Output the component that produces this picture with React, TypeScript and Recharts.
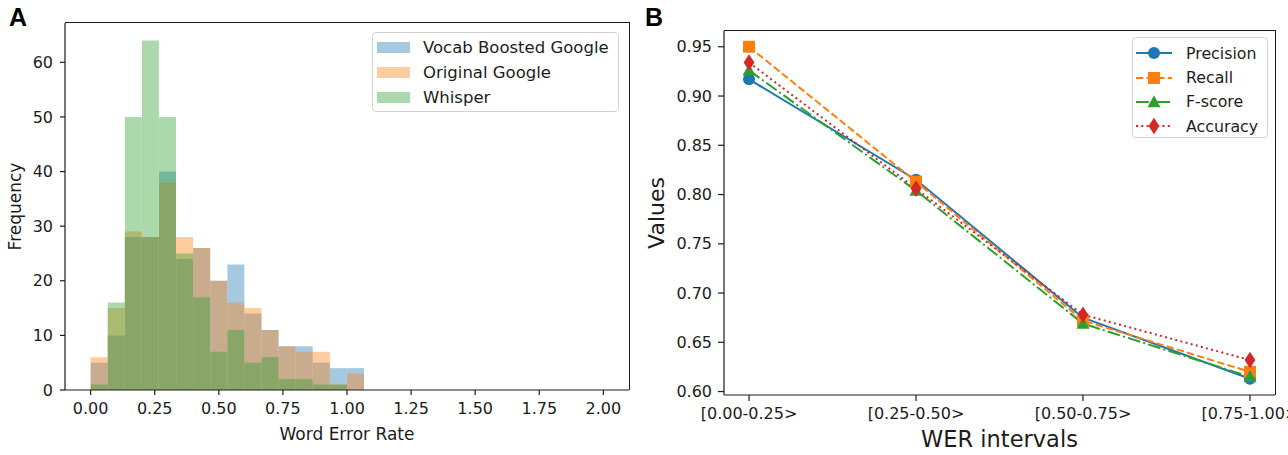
import React from "react";
import {
  ComposedChart,
  LineChart,
  Bar,
  Line,
  XAxis,
  YAxis,
  Legend,
} from "recharts";

// Panel A: histogram of word error rate, bins of width 1/15 over [0, 2]
const binCenters = [
  0.0333, 0.1, 0.1667, 0.2333, 0.3, 0.3667, 0.4333, 0.5, 0.5667, 0.6333,
  0.7, 0.7667, 0.8333, 0.9, 0.9667, 1.0333, 1.1, 1.1667, 1.2333, 1.3,
  1.3667, 1.4333, 1.5, 1.5667, 1.6333, 1.7, 1.7667, 1.8333, 1.9, 1.9667,
];
const vocabBoosted = [5, 10, 28, 28, 40, 24, 26, 20, 23, 14, 11, 8, 8, 5, 4, 4, 0, 0, 0, 0, 0, 0, 0, 0, 0, 0, 0, 0, 0, 0];
const originalGoogle = [6, 15, 29, 28, 38, 28, 26, 20, 16, 15, 11, 8, 7, 7, 1, 3, 0, 0, 0, 0, 0, 0, 0, 0, 0, 0, 0, 0, 0, 0];
const whisper = [1, 16, 50, 64, 50, 25, 17, 7, 11, 5, 6, 2, 2, 1, 1, 0, 0, 0, 0, 0, 0, 0, 0, 0, 0, 0, 0, 0, 0, 0];
const werTicks = [0, 0.25, 0.5, 0.75, 1.0, 1.25, 1.5, 1.75, 2.0];
const freqTicks = [0, 10, 20, 30, 40, 50, 60];
const histSeries = ["Vocab Boosted Google", "Original Google", "Whisper"];

// Panel B: metrics per WER interval
const werIntervals = ["[0.00-0.25>", "[0.25-0.50>", "[0.50-0.75>", "[0.75-1.00>"];
const precision = [0.917, 0.815, 0.675, 0.613];
const recall = [0.95, 0.813, 0.672, 0.62];
const fScore = [0.926, 0.804, 0.669, 0.615];
const accuracy = [0.934, 0.806, 0.678, 0.632];
const valueTicks = [0.6, 0.65, 0.7, 0.75, 0.8, 0.85, 0.9, 0.95];
const metricSeries = ["Precision", "Recall", "F-score", "Accuracy"];

const BLUE = "#1f77b4";
const ORANGE = "#ff7f0e";
const GREEN = "#2ca02c";
const RED = "#d62728";
const INK = "#1c1c1c";
const FONT = "'DejaVu Sans', sans-serif";

const histData = binCenters.map((x, i) => ({
  x,
  vocab: vocabBoosted[i],
  orig: originalGoogle[i],
  whisper: whisper[i],
}));

// intervals sit at positions 0..3 on a numeric axis, like matplotlib's categorical x
const metricData = werIntervals.map((interval, i) => ({
  pos: i,
  interval,
  precision: precision[i],
  recall: recall[i],
  fscore: fScore[i],
  accuracy: accuracy[i],
}));

const tickStyle = (size: number) => ({ fill: INK, fontSize: size, fontFamily: FONT });
const frameLine = { stroke: INK, strokeWidth: 1.2 };

// keep legend rows in series order (recharts sorts them by name otherwise)
const ordered = (payload: any[] = [], order: string[]) =>
  [...payload].sort((a, b) => order.indexOf(a.value) - order.indexOf(b.value));

function HistLegend({ payload }: any) {
  return (
    <div
      style={{
        width: 247,
        height: 80,
        boxSizing: "border-box",
        border: "1px solid #d2d2d2",
        borderRadius: 4,
        background: "rgba(255,255,255,0.85)",
        padding: "2px 4px",
        fontFamily: FONT,
        fontSize: 16.5,
        color: INK,
      }}
    >
      {ordered(payload, histSeries).map((entry: any) => (
        <div key={entry.value} style={{ height: 25, display: "flex", alignItems: "center" }}>
          <div style={{ width: 33, height: 11, background: entry.color, opacity: 0.4, marginRight: 13 }} />
          <span>{entry.value}</span>
        </div>
      ))}
    </div>
  );
}

// marker drawing shared by line dots and legend samples
function marker(kind: string, cx: number, cy: number, color: string, key?: string) {
  if (kind === "circle") return <circle key={key} cx={cx} cy={cy} r={6} fill={color} />;
  if (kind === "square") return <rect key={key} x={cx - 6} y={cy - 6} width={12} height={12} fill={color} />;
  if (kind === "triangle")
    return <path key={key} d={`M${cx},${cy - 6.8} L${cx + 6.5},${cy + 5.2} L${cx - 6.5},${cy + 5.2} Z`} fill={color} />;
  return <path key={key} d={`M${cx},${cy - 8.3} L${cx + 5.4},${cy} L${cx},${cy + 8.3} L${cx - 5.4},${cy} Z`} fill={color} />;
}

const lineStyles: Record<string, { color: string; dash?: string; kind: string }> = {
  Precision: { color: BLUE, kind: "circle" },
  Recall: { color: ORANGE, dash: "7.4 3.2", kind: "square" },
  "F-score": { color: GREEN, dash: "12.8 3.2 2 3.2", kind: "triangle" },
  Accuracy: { color: RED, dash: "2 3.3", kind: "diamond" },
};

function MetricLegend({ payload }: any) {
  return (
    <div
      style={{
        width: 136,
        height: 101,
        boxSizing: "border-box",
        border: "1px solid #d2d2d2",
        borderRadius: 4,
        background: "rgba(255,255,255,0.85)",
        padding: "3px 3px",
        fontFamily: FONT,
        fontSize: 15.8,
        color: INK,
      }}
    >
      {ordered(payload, metricSeries).map((entry: any) => {
        const s = lineStyles[entry.value] || { color: entry.color, kind: "circle" };
        return (
          <div key={entry.value} style={{ height: 24.4, display: "flex", alignItems: "center" }}>
            <svg width={36} height={18} style={{ marginRight: 14 }}>
              <line x1={0} y1={9} x2={36} y2={9} stroke={s.color} strokeWidth={2} strokeDasharray={s.dash} />
              {marker(s.kind, 18, 9, s.color)}
            </svg>
            <span>{entry.value}</span>
          </div>
        );
      })}
    </div>
  );
}

const dotFor = (name: string) => (props: any) => {
  const s = lineStyles[name];
  return marker(s.kind, props.cx, props.cy, s.color, `${name}-${props.index}`);
};

// top and right spines of a matplotlib-style axes box (left/bottom come from the axes)
function AxesBox({ left, top, right, bottom }: { left: number; top: number; right: number; bottom: number }) {
  return (
    <div
      style={{
        position: "absolute",
        left,
        top: top - 1,
        width: right - left + 1,
        height: bottom - top + 1,
        boxSizing: "border-box",
        borderTop: `1px solid ${INK}`,
        borderRight: `1px solid ${INK}`,
        pointerEvents: "none",
      }}
    />
  );
}

export default function App() {
  return (
    <div style={{ position: "absolute", left: 0, top: 0, width: 1288, height: 455, background: "#fff", overflow: "hidden" }}>
      <div style={{ position: "absolute", left: 9, top: 3, fontFamily: "'Liberation Sans', Arial, sans-serif", fontWeight: 700, fontSize: 25, color: "#000" }}>
        A
      </div>
      <div style={{ position: "absolute", left: 645, top: 3, fontFamily: "'Liberation Sans', Arial, sans-serif", fontWeight: 700, fontSize: 25, color: "#000" }}>
        B
      </div>

      <div style={{ position: "absolute", left: 0, top: 0 }}>
        <ComposedChart
          width={640}
          height={455}
          data={histData}
          margin={{ top: 23, right: 11, bottom: 0, left: 0 }}
          barCategoryGap={0}
          barGap={0}
        >
          <XAxis
            xAxisId="vocab"
            type="number"
            dataKey="x"
            domain={[-0.1, 2.1]}
            ticks={werTicks}
            tickFormatter={(v: number) => v.toFixed(2)}
            interval={0}
            height={65}
            tickSize={5}
            tickMargin={8}
            tick={tickStyle(16)}
            axisLine={frameLine}
            tickLine={frameLine}
            label={{ value: "Word Error Rate", position: "insideBottom", offset: 15, fill: INK, fontSize: 17, fontFamily: FONT }}
          />
          <XAxis xAxisId="orig" type="number" dataKey="x" domain={[-0.1, 2.1]} height={0} hide />
          <XAxis xAxisId="whisper" type="number" dataKey="x" domain={[-0.1, 2.1]} height={0} hide />
          <YAxis
            type="number"
            domain={[0, 67.2]}
            ticks={freqTicks}
            interval={0}
            width={65}
            tickSize={5}
            tickMargin={7}
            tick={tickStyle(16)}
            axisLine={frameLine}
            tickLine={frameLine}
            label={{
              value: "Frequency",
              angle: -90,
              position: "insideLeft",
              offset: 15,
              fill: INK,
              fontSize: 17,
              fontFamily: FONT,
              style: { textAnchor: "middle" },
            }}
          />
          <Bar xAxisId="vocab" dataKey="vocab" name="Vocab Boosted Google" fill={BLUE} fillOpacity={0.4} isAnimationActive={false} />
          <Bar xAxisId="orig" dataKey="orig" name="Original Google" fill={ORANGE} fillOpacity={0.4} isAnimationActive={false} />
          <Bar xAxisId="whisper" dataKey="whisper" name="Whisper" fill={GREEN} fillOpacity={0.4} isAnimationActive={false} />
          <Legend
            layout="horizontal"
            verticalAlign="middle"
            align="center"
            wrapperStyle={{ left: 372, top: 32, width: 247 }}
            content={<HistLegend />}
          />
        </ComposedChart>
      </div>
      <AxesBox left={65} top={23} right={629} bottom={390} />

      <div style={{ position: "absolute", left: 640, top: 0 }}>
        <LineChart width={648} height={455} data={metricData} margin={{ top: 31, right: 13, bottom: 0, left: 0 }}>
          <XAxis
            dataKey="pos"
            type="number"
            domain={[-0.15, 3.15]}
            ticks={[0, 1, 2, 3]}
            tickFormatter={(v: number) => werIntervals[v] ?? ""}
            interval={0}
            height={60}
            tickSize={6}
            tickMargin={7}
            tick={tickStyle(16)}
            axisLine={frameLine}
            tickLine={frameLine}
            label={{ value: "WER intervals", position: "insideBottom", offset: 8, fill: INK, fontSize: 22.5, fontFamily: FONT }}
          />
          <YAxis
            type="number"
            domain={[0.5965, 0.966]}
            ticks={valueTicks}
            interval={0}
            allowDataOverflow
            tickFormatter={(v: number) => v.toFixed(2)}
            width={84}
            tickSize={6}
            tickMargin={6}
            tick={tickStyle(16)}
            axisLine={frameLine}
            tickLine={frameLine}
            label={{
              value: "Values",
              angle: -90,
              position: "insideLeft",
              offset: 16,
              fill: INK,
              fontSize: 22,
              fontFamily: FONT,
              style: { textAnchor: "middle" },
            }}
          />
          <Line dataKey="precision" name="Precision" stroke={BLUE} strokeWidth={2} dot={dotFor("Precision")} isAnimationActive={false} />
          <Line dataKey="recall" name="Recall" stroke={ORANGE} strokeWidth={2} strokeDasharray="7.4 3.2" dot={dotFor("Recall")} isAnimationActive={false} />
          <Line dataKey="fscore" name="F-score" stroke={GREEN} strokeWidth={2} strokeDasharray="12.8 3.2 2 3.2" dot={dotFor("F-score")} isAnimationActive={false} />
          <Line dataKey="accuracy" name="Accuracy" stroke={RED} strokeWidth={2} strokeDasharray="2 3.3" dot={dotFor("Accuracy")} isAnimationActive={false} />
          <Legend
            layout="horizontal"
            verticalAlign="middle"
            align="center"
            wrapperStyle={{ left: 492, top: 37, width: 136 }}
            content={<MetricLegend />}
          />
        </LineChart>
      </div>
      <AxesBox left={724} top={31} right={1275} bottom={395} />
    </div>
  );
}
